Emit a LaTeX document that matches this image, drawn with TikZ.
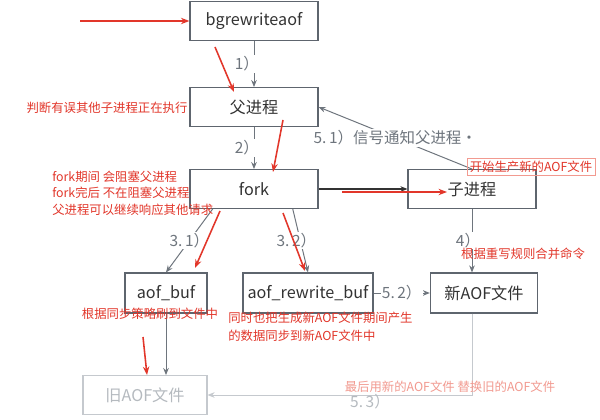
\documentclass[tikz,border=0pt]{standalone}
\usepackage{fontspec}
\setmainfont{Noto Sans CJK SC}
\usetikzlibrary{arrows.meta, positioning, calc}
\definecolor{boxline}{HTML}{5E656E}
\definecolor{boxtext}{HTML}{333333}
\definecolor{stepgray}{HTML}{6E757D}
\definecolor{notered}{HTML}{E2362A}
\definecolor{palered}{HTML}{F29A90}
\definecolor{palegray}{HTML}{C5C9CE}
\definecolor{paletext}{HTML}{B5BABF}

\begin{document}
\begin{tikzpicture}[
  x=0.025cm, y=-0.025cm,
  box/.style={draw=boxline, line width=0.8pt, minimum width=3.2cm, minimum height=0.97cm, text=boxtext, font=\fontsize{11.5}{14}\selectfont, inner sep=2pt},
  oldbox/.style={box, draw=palegray, text=paletext},
  lbl/.style={fill=white, text=stepgray, font=\fontsize{11}{13}\selectfont, inner sep=1pt},
  note/.style={text=notered, font=\fontsize{8.8}{11.8}\selectfont, align=left, inner sep=0pt},
  arr/.style={-{Stealth[length=5pt, width=4pt]}, stepgray, line width=0.7pt},
  redarr/.style={-{Stealth[length=6pt, width=4.5pt]}, notered, line width=1.1pt},
]
\path[use as bounding box, fill=white] (0,0) rectangle (600,420);

% Process boxes
\node[box] (bgr) at (254,21) {bgrewriteaof};
\node[box] (parent) at (254,107) {父进程};
\node[box] (fork) at (254,189) {fork};
\node[box] (child) at (472,189) {子进程};
\node[box, minimum width=2.05cm, minimum height=1cm] (abuf) at (166,293) {aof\_buf};
\node[box, minimum width=3.25cm, minimum height=1cm] (rbuf) at (308,293) {aof\_rewrite\_buf};
\node[box, minimum width=2.68cm, minimum height=1cm] (newaof) at (484,293) {新AOF文件};
\node[oldbox, minimum width=3.1cm] (oldaof) at (145,395) {旧AOF文件};

% Numbered steps
\coordinate (f31) at ($(fork.south west)!0.18!(fork.south east)$);
\coordinate (f32) at ($(fork.south west)!0.8!(fork.south east)$);
\draw[arr] (bgr) -- node[lbl, xshift=-0.18cm] {1）} (parent);
\draw[arr] (parent) -- node[lbl, xshift=-0.18cm] {2）} (fork);
\draw[-{Stealth[length=5pt, width=4pt]}, black!80, line width=0.8pt] (fork) -- (child);
\draw[arr] (child.north) -- node[lbl] {5.\,1）信号通知父进程·} (parent.east);
\draw[arr] (f31) -- node[lbl] {3.\,1）} (abuf.north);
\draw[arr] (f32) -- node[lbl, xshift=-0.1cm] {3.\,2）} (rbuf.north);
\draw[arr] (child.south) -- node[lbl, xshift=-0.1cm] {4）} (child.south |- newaof.north);
\draw[arr] (rbuf) -- node[lbl] {5.\,2）} (newaof);
\draw[arr] (abuf.south) -- (abuf.south |- oldaof.north);
\draw[arr, palegray] (child.south |- newaof.south) |- (oldaof.east);
\node[lbl, fill=none, text=paletext] (s53) at (370,402) {5.\,3）};

% Red notes
\node[note] (n1) at (107,108) {判断有误其他子进程正在执行};
\node[note, anchor=west] (n2) at (52,193) {fork期间 会阻塞父进程\\fork完后 不在阻塞父进程\\父进程可以继续响应其他请求};
\node[note, draw=palered, inner sep=2pt] (n3) at (531,167) {开始生产新的AOF文件};
\node[note] (n4) at (523,254) {根据重写规则合并命令};
\node[note] (n5) at (150,314) {根据同步策略刷到文件中};
\node[note, anchor=west, font=\fontsize{8.8}{12.7}\selectfont] (n6) at (228,327) {同时也把生成新AOF文件期间产生\\的数据同步到新AOF文件中};
\node[note, text=palered] (n7) at (450,387) {最后用新的AOF文件 替换旧的AOF文件};

% Red arrows
\coordinate (r1s) at (80,21);
\coordinate (r2s) at (215,47);
\coordinate (r2e) at (234,92);
\coordinate (r3s) at (283,120);
\coordinate (r3e) at (273,172);
\coordinate (r4s) at (342,192);
\coordinate (r4e) at (447,192);
\coordinate (r5s) at (220,211);
\coordinate (r5e) at (195,268);
\coordinate (r6s) at (283,213);
\coordinate (r6e) at (305,271);
\coordinate (r7s) at (143,337);
\coordinate (r7e) at (147,375);
\draw[redarr] (r1s) -- (bgr.west);
\draw[redarr] (r2s) -- (r2e);
\draw[redarr] (r3s) -- (r3e);
\draw[redarr] (r4s) -- (r4e);
\draw[redarr] (r5s) -- (r5e);
\draw[redarr] (r6s) -- (r6e);
\draw[redarr] (r7s) -- (r7e);

\end{tikzpicture}
\end{document}
